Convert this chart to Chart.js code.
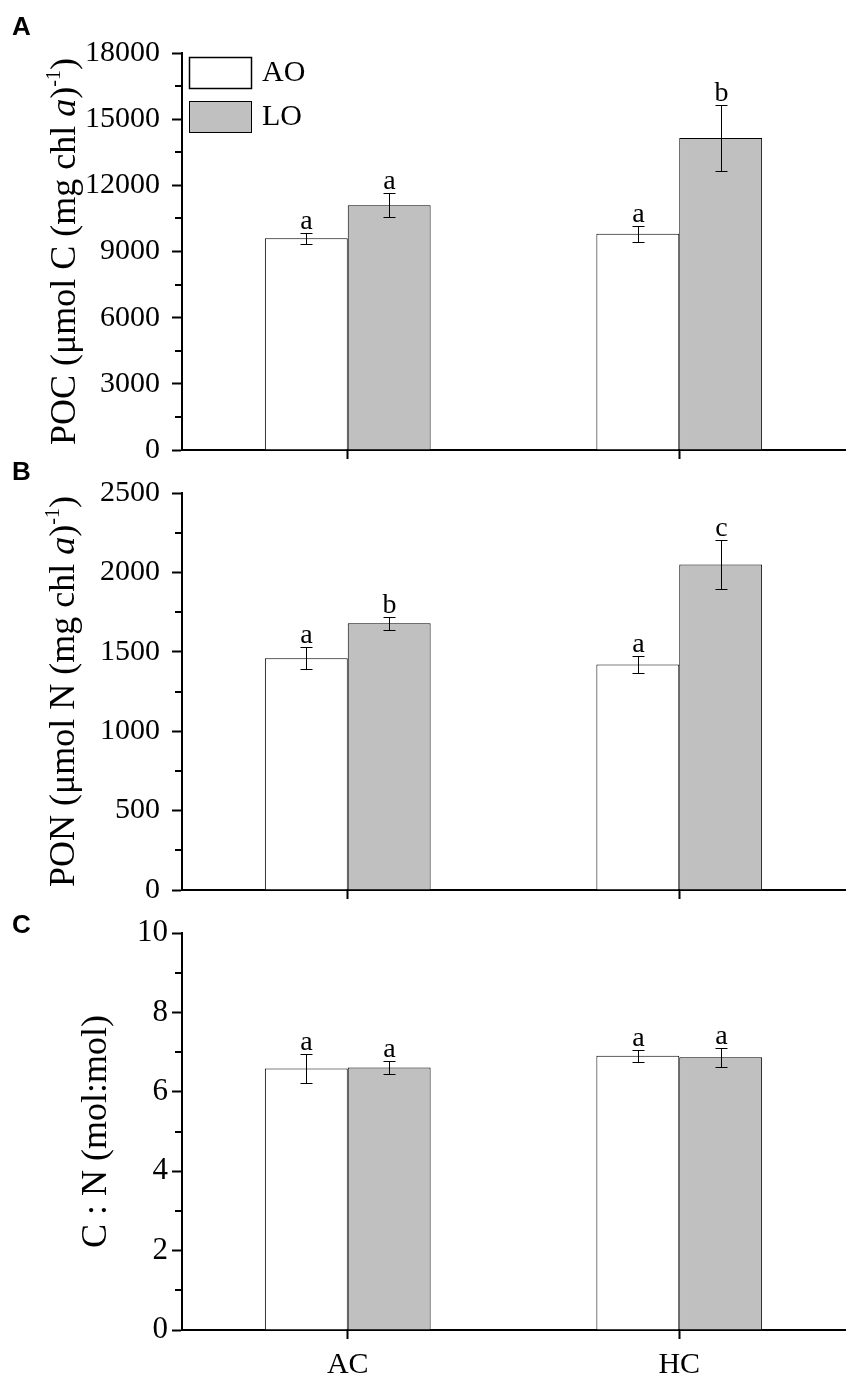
<!DOCTYPE html>
<html>
<head>
<meta charset="utf-8">
<script src="https://cdn.jsdelivr.net/npm/chart.js@4.4.0/dist/chart.umd.min.js"></script>
<style>
  body { margin: 0; background: #fff; }
  .panel { position: absolute; left: 0; width: 854px; }
</style>
</head>
<body>
<div class="panel" style="top:0;height:480px"><canvas id="chartA"></canvas></div>
<div class="panel" style="top:460px;height:460px"><canvas id="chartB"></canvas></div>
<div class="panel" style="top:910px;height:469px"><canvas id="chartC"></canvas></div>
<script>
const groups = ['AC', 'HC'];
const seriesNames = ['AO', 'LO'];
const seriesColors = ['#ffffff', '#c0c0c0'];

// A - POC
const pocAO = [9600, 9800];
const pocLO = [11100, 14150];
const pocAOErr = [250, 350];
const pocLOErr = [550, 1500];
const pocAOLetters = ['a', 'a'];
const pocLOLetters = ['a', 'b'];
const pocTicks = [0, 3000, 6000, 9000, 12000, 15000, 18000];

// B - PON
const ponAO = [1460, 1420];
const ponLO = [1680, 2050];
const ponAOErr = [68, 56];
const ponLOErr = [40, 155];
const ponAOLetters = ['a', 'a'];
const ponLOLetters = ['b', 'c'];
const ponTicks = [0, 500, 1000, 1500, 2000, 2500];

// C - C:N
const cnAO = [6.59, 6.91];
const cnLO = [6.61, 6.87];
const cnAOErr = [0.37, 0.15];
const cnLOErr = [0.16, 0.24];
const cnAOLetters = ['a', 'a'];
const cnLOLetters = ['a', 'a'];
const cnTicks = [0, 2, 4, 6, 8, 10];

const serif = "'Liberation Serif', 'Times New Roman', serif";

function segFont(s, size) {
  return (s.it ? 'italic ' : '') + Math.round(s.sup ? size * 0.55 : size) + 'px ' + serif;
}

// rotated y title with italic / superscript pieces
function drawTitle(ctx, segs, x, y, size) {
  ctx.save();
  ctx.translate(x, y);
  ctx.rotate(-Math.PI / 2);
  ctx.textAlign = 'left';
  ctx.textBaseline = 'alphabetic';
  ctx.fillStyle = '#000';
  let total = 0;
  segs.forEach(s => { ctx.font = segFont(s, size); total += ctx.measureText(s.t).width; });
  let cx = -total / 2;
  segs.forEach(s => {
    ctx.font = segFont(s, size);
    ctx.fillText(s.t, cx, s.sup ? -size * 0.42 : 0);
    cx += ctx.measureText(s.t).width;
  });
  ctx.restore();
}

function panel(id, opt) {
  const yTicks = opt.ticks;
  const yMax = yTicks[yTicks.length - 1];
  const major = yTicks[1] - yTicks[0];

  const deco = {
    id: 'deco_' + id,
    afterDatasetsDraw(chart) {
      const ctx = chart.ctx;
      const y = chart.scales.y;
      const area = chart.chartArea;
      ctx.save();
      ctx.strokeStyle = '#000';
      ctx.fillStyle = '#000';

      // minor ticks
      ctx.lineWidth = 2;
      for (let v = major / 2; v < yMax; v += major) {
        const py = Math.round(y.getPixelForValue(v));
        ctx.beginPath();
        ctx.moveTo(area.left - 7, py);
        ctx.lineTo(area.left, py);
        ctx.stroke();
      }

      // error bars + letters
      ctx.lineWidth = 1;
      ctx.font = '28px ' + serif;
      ctx.textAlign = 'center';
      ctx.textBaseline = 'alphabetic';
      chart.data.datasets.forEach((ds, i) => {
        chart.getDatasetMeta(i).data.forEach((bar, j) => {
          const v = ds.data[j], e = ds.errors[j];
          const x = Math.round(bar.x) + 0.5;
          const top = Math.round(y.getPixelForValue(v + e)) + 0.5;
          const bot = Math.round(y.getPixelForValue(v - e)) + 0.5;
          ctx.beginPath();
          ctx.moveTo(x, top); ctx.lineTo(x, bot);
          ctx.moveTo(x - 6, top); ctx.lineTo(x + 6, top);
          ctx.moveTo(x - 6, bot); ctx.lineTo(x + 6, bot);
          ctx.stroke();
          ctx.fillText(ds.letters[j], x, top - 5);
        });
      });

      // panel tag
      ctx.textAlign = 'left';
      ctx.font = "bold 26px 'Liberation Sans', Arial, sans-serif";
      ctx.fillText(opt.tag, 12, opt.tagY);

      // y title
      drawTitle(ctx, opt.title, opt.titleX, (area.top + area.bottom) / 2, opt.titleSize);

      // legend inside plot (panel A only)
      if (opt.legend) {
        ctx.font = '30px ' + serif;
        ctx.textBaseline = 'middle';
        chart.data.datasets.forEach((ds, i) => {
          const bx = area.left + 7.5, by = area.top + 4.5 + i * 44;
          ctx.fillStyle = ds.backgroundColor;
          ctx.fillRect(bx, by, 62, 31);
          ctx.lineWidth = i === 0 ? 1.5 : 1;
          ctx.strokeRect(bx, by, 62, 31);
          ctx.fillStyle = '#000';
          ctx.fillText(ds.label, area.left + 80, by + 16);
        });
      }
      ctx.restore();
    }
  };

  return new Chart(document.getElementById(id), {
    type: 'bar',
    data: {
      labels: groups,
      datasets: [
        { label: seriesNames[0], data: opt.ao, errors: opt.aoErr, letters: opt.aoLetters,
          backgroundColor: seriesColors[0], borderColor: '#000', borderWidth: 1 },
        { label: seriesNames[1], data: opt.lo, errors: opt.loErr, letters: opt.loLetters,
          backgroundColor: seriesColors[1], borderColor: '#000', borderWidth: 1 }
      ]
    },
    options: {
      responsive: true,
      maintainAspectRatio: false,
      animation: false,
      layout: { padding: { top: opt.padTop, right: 9, left: 0, bottom: 0 } },
      datasets: { bar: { categoryPercentage: 0.5, barPercentage: 1 } },
      plugins: { legend: { display: false }, tooltip: { enabled: false } },
      scales: {
        x: {
          grid: { display: true, drawOnChartArea: false, offset: false, tickLength: 9, tickWidth: 2, tickColor: '#000' },
          border: { display: true, color: '#000', width: 2 },
          ticks: { display: opt.showX, color: '#000', font: { family: serif, size: 30 }, padding: 8 },
          afterFit: s => { s.height = opt.xHeight; }
        },
        y: {
          min: 0,
          max: yMax,
          grid: { drawOnChartArea: false, tickLength: 10, tickWidth: 2, tickColor: '#000' },
          border: { display: true, color: '#000', width: 2 },
          ticks: { stepSize: major, autoSkip: false, color: '#000',
                   font: { family: serif, size: opt.tickSize }, padding: opt.tickPad,
                   callback: v => String(v) },
          afterFit: s => { s.width = 182; }
        }
      }
    },
    plugins: [deco]
  });
}

panel('chartA', {
  ao: pocAO, lo: pocLO, aoErr: pocAOErr, loErr: pocLOErr,
  aoLetters: pocAOLetters, loLetters: pocLOLetters, ticks: pocTicks,
  padTop: 53, xHeight: 29, showX: false, tickSize: 30, tickPad: 12,
  tag: 'A', tagY: 35, legend: true, titleX: 75, titleSize: 36,
  title: [{ t: 'POC (μmol C (mg chl ' }, { t: 'a', it: true }, { t: ')' }, { t: '-1', sup: true }, { t: ')' }]
});

panel('chartB', {
  ao: ponAO, lo: ponLO, aoErr: ponAOErr, loErr: ponLOErr,
  aoLetters: ponAOLetters, loLetters: ponLOLetters, ticks: ponTicks,
  padTop: 33, xHeight: 29, showX: false, tickSize: 30, tickPad: 12,
  tag: 'B', tagY: 20, legend: false, titleX: 74, titleSize: 36,
  title: [{ t: 'PON (μmol N (mg chl ' }, { t: 'a', it: true }, { t: ')' }, { t: '-1', sup: true }, { t: ')' }]
});

panel('chartC', {
  ao: cnAO, lo: cnLO, aoErr: cnAOErr, loErr: cnLOErr,
  aoLetters: cnAOLetters, loLetters: cnLOLetters, ticks: cnTicks,
  padTop: 23, xHeight: 49, showX: true, tickSize: 31, tickPad: 4,
  tag: 'C', tagY: 23, legend: false, titleX: 106, titleSize: 36,
  title: [{ t: 'C : N (mol:mol)' }]
});
</script>
</body>
</html>
